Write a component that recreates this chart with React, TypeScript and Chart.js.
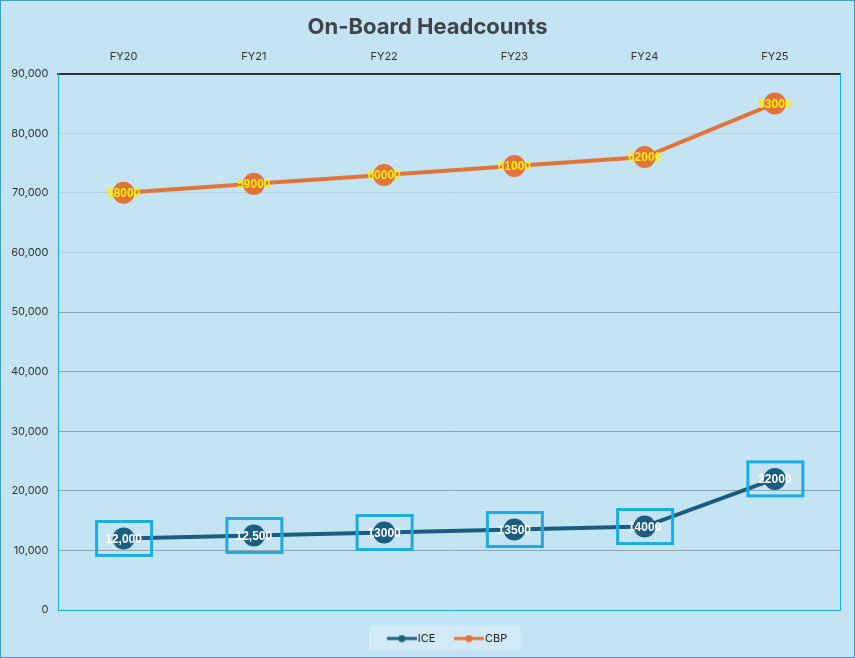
import React, { useEffect, useRef } from 'react';
import { Chart, registerables } from 'chart.js';

Chart.register(...registerables);

// valores (CBP va apilado encima de ICE)
const fiscalYears = ['FY20', 'FY21', 'FY22', 'FY23', 'FY24', 'FY25'];
const iceHeadcount = [12000, 12500, 13000, 13500, 14000, 22000];
const cbpHeadcount = [58000, 59000, 60000, 61000, 62000, 63000];
const iceLabels = ['12,000', '12,500', '13000', '13500', '14000', '22000'];
const cbpLabels = ['58000', '59000', '60000', '61000', '62000', '63000'];

const BG = '#c4e4f4';
const ICE_COLOR = '#1a5d80';
const CBP_COLOR = '#e2733a';
const BOX_COLOR = '#1aaee0';

// icono de leyenda: línea con un punto en medio
function legendIcon(color: string) {
  const c = document.createElement('canvas');
  c.width = 30;
  c.height = 8;
  const ctx = c.getContext('2d');
  if (ctx) {
    ctx.strokeStyle = color;
    ctx.lineWidth = 3;
    ctx.beginPath();
    ctx.moveTo(0, 4);
    ctx.lineTo(30, 4);
    ctx.stroke();
    ctx.fillStyle = color;
    ctx.beginPath();
    ctx.arc(15, 4, 3.5, 0, Math.PI * 2);
    ctx.fill();
  }
  return c;
}

const backgroundPlugin = {
  id: 'fondo',
  afterLayout(chart: any) {
    // centrar la leyenda bajo el área del gráfico
    const lg = chart.legend;
    if (lg) {
      const shift = (chart.chartArea.left + chart.chartArea.right) / 2 - (lg.left + lg.right) / 2;
      lg.left += shift;
      lg.right += shift;
    }
    // el título va centrado en todo el lienzo
    const tt = chart.titleBlock;
    if (tt) {
      const shiftT = chart.width / 2 - (tt.left + tt.right) / 2;
      tt.left += shiftT;
      tt.right += shiftT;
    }
  },
  beforeDraw(chart: any) {
    const { ctx, width, height } = chart;
    ctx.save();
    ctx.fillStyle = BG;
    ctx.fillRect(0, 0, width, height);
    // recuadro de la leyenda
    const boxes = chart.legend?.legendHitBoxes || [];
    if (boxes.length) {
      const left = Math.min(...boxes.map((b: any) => b.left)) - 22;
      const right = Math.max(...boxes.map((b: any) => b.left + b.width)) + 13;
      const cy = boxes[0].top + boxes[0].height / 2;
      ctx.fillStyle = '#d2eaf5';
      ctx.fillRect(left, cy - 13, right - left, 25);
    }
    ctx.restore();
  },
  afterDraw(chart: any) {
    const { ctx, chartArea } = chart;
    ctx.save();
    ctx.strokeStyle = BOX_COLOR;
    ctx.lineWidth = 1;
    ctx.beginPath();
    ctx.moveTo(chartArea.right + 0.5, chartArea.top);
    ctx.lineTo(chartArea.right + 0.5, chartArea.bottom + 0.5);
    ctx.lineTo(chartArea.left, chartArea.bottom + 0.5);
    ctx.stroke();
    ctx.restore();
  },
};

const labelsPlugin = {
  id: 'etiquetas',
  afterDatasetsDraw(chart: any) {
    const { ctx } = chart;
    ctx.save();
    ctx.textAlign = 'center';
    ctx.textBaseline = 'middle';
    ctx.font = 'bold 12px "Liberation Sans", Arial, sans-serif';
    chart.data.datasets.forEach((ds: any, i: number) => {
      const meta = chart.getDatasetMeta(i);
      meta.data.forEach((pt: any, j: number) => {
        const text = ds.valueLabels[j];
        if (i === 0) {
          ctx.strokeStyle = BOX_COLOR;
          ctx.lineWidth = 3;
          ctx.strokeRect(pt.x - 27, pt.y - 17, 55, 34);
          ctx.fillStyle = '#ffffff';
        } else {
          ctx.fillStyle = '#ffee00';
        }
        ctx.fillText(text, pt.x, pt.y + 1);
      });
    });
    ctx.restore();
  },
};

function HeadcountChart() {
  const canvasRef = useRef<HTMLCanvasElement>(null);

  useEffect(() => {
    const canvas = canvasRef.current;
    if (!canvas) return;
    const chart = new Chart(canvas, {
      type: 'line',
      data: {
        labels: fiscalYears,
        datasets: [
          {
            label: 'ICE',
            data: iceHeadcount,
            borderColor: ICE_COLOR,
            backgroundColor: ICE_COLOR,
            borderWidth: 4,
            pointRadius: 11,
            pointBorderWidth: 0,
            pointStyle: 'circle',
            tension: 0,
            icon: legendIcon(ICE_COLOR),
            valueLabels: iceLabels,
          } as any,
          {
            label: 'CBP',
            data: cbpHeadcount,
            borderColor: CBP_COLOR,
            backgroundColor: CBP_COLOR,
            borderWidth: 4,
            pointRadius: 11,
            pointBorderWidth: 0,
            pointStyle: 'circle',
            tension: 0,
            icon: legendIcon(CBP_COLOR),
            valueLabels: cbpLabels,
          } as any,
        ],
      },
      options: {
        animation: false,
        responsive: false,
        layout: { padding: { left: 0, right: 14, top: 5, bottom: 3 } },
        scales: {
          x: {
            position: 'top',
            offset: true,
            grid: { display: false, drawTicks: false },
            border: { color: '#2b3338', width: 2 },
            ticks: {
              color: '#333',
              padding: 10,
              font: { family: 'Inter, "Noto Sans", sans-serif', size: 11 },
            },
          },
          y: {
            stacked: true,
            min: 0,
            max: 90000,
            grid: {
              drawTicks: false,
              color: (c: any) => (c.tick && c.tick.value >= 60000 ? '#b0d2e2' : '#8ba5b1'),
            },
            border: { color: BOX_COLOR, width: 1 },
            ticks: {
              stepSize: 10000,
              color: '#333',
              padding: 10,
              font: { family: 'Inter, "Noto Sans", sans-serif', size: 11 },
              callback: (v: any) => Number(v).toLocaleString('en-US'),
            },
          },
        },
        plugins: {
          title: {
            display: true,
            text: 'On-Board Headcounts',
            color: '#404449',
            font: { family: 'Inter, "Noto Sans", sans-serif', size: 22, weight: 'bold' },
            padding: { top: 8, bottom: 0 },
          },
          legend: {
            position: 'bottom',
            labels: {
              usePointStyle: true,
              pointStyleWidth: 21,
              color: '#222',
              padding: 23,
              font: { family: 'Inter, "Noto Sans", sans-serif', size: 11 },
              generateLabels: (ch: any) =>
                ch.data.datasets.map((ds: any, i: number) => ({
                  text: ds.label,
                  pointStyle: ds.icon,
                  fillStyle: ds.borderColor,
                  strokeStyle: ds.borderColor,
                  lineWidth: 0,
                  fontColor: '#222',
                  datasetIndex: i,
                  hidden: false,
                })),
            },
          },
          tooltip: { enabled: false },
        },
      },
      plugins: [backgroundPlugin, labelsPlugin],
    });
    return () => {
      chart.destroy();
    };
  }, []);

  return <canvas ref={canvasRef} width={853} height={656} />;
}

export default function App() {
  return (
    <div
      style={{
        position: 'fixed',
        left: 0,
        top: 0,
        width: 853,
        height: 656,
        border: '1px solid #3d9ec8',
        background: BG,
      }}
    >
      <HeadcountChart />
    </div>
  );
}
